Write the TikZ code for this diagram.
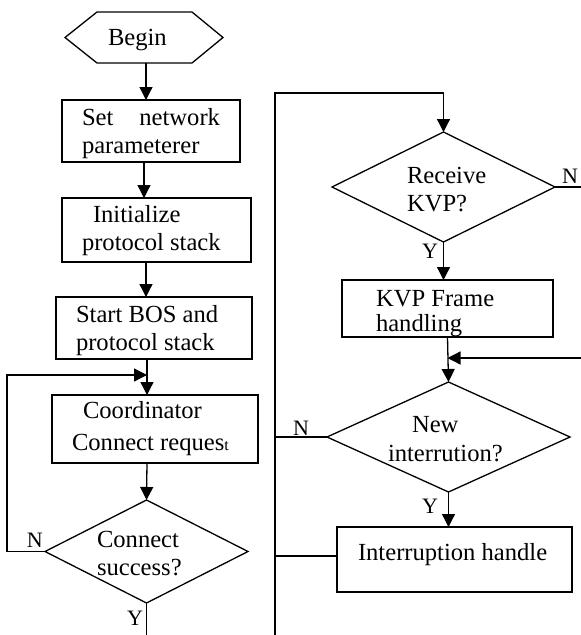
\documentclass[tikz,border=0pt]{standalone}
\usepackage{fontspec}
\setmainfont{Liberation Serif}
\usetikzlibrary{arrows.meta,shapes.geometric}
\begin{document}
\begin{tikzpicture}[x=1pt,y=-1pt,
  every node/.style={inner sep=0pt, outer sep=0pt},
  shapebox/.style={draw, line width=1.3pt, rectangle},
  decision/.style={draw, line width=1.3pt, diamond},
  txt/.style={anchor=west, align=left, font=\fontsize{24.6}{28}\selectfont},
  lbl/.style={anchor=base west, font=\fontsize{22}{22}\selectfont},
  conn/.style={line width=1.3pt},
  arr/.style={conn, -{Triangle[length=13pt,width=13pt]}},
]
\useasboundingbox (0,0) rectangle (581,635);

% ---- left column shapes
\node[minimum width=158pt, minimum height=51pt] (begin) at (144,37.5) {};
\draw[conn] (begin.west) -- ([xshift=32pt]begin.north west) -- ([xshift=-31pt]begin.north east)
  -- (begin.east) -- ([xshift=-31pt]begin.south east) -- ([xshift=32pt]begin.south west) -- cycle;
\node[shapebox, minimum width=178pt, minimum height=62pt] (b1) at (151,131) {};
\node[shapebox, minimum width=189pt, minimum height=64pt] (b2) at (156.5,230) {};
\node[shapebox, minimum width=196pt, minimum height=62pt] (b3) at (154,328) {};
\node[shapebox, minimum width=206pt, minimum height=68pt] (b4) at (155,429) {};
\node[decision, minimum width=203pt, minimum height=103pt] (d1) at (146.5,551.5) {};

% ---- right column shapes
\node[decision, minimum width=223pt, minimum height=110pt] (d2) at (443.5,187) {};
\node[shapebox, minimum width=211pt, minimum height=57pt] (kvp) at (447.5,308.5) {};
\node[decision, minimum width=243pt, minimum height=110pt] (d3) at (448.5,437) {};
\node[shapebox, minimum width=235pt, minimum height=65pt] (ih) at (454.5,559.5) {};

% ---- texts
\node[txt] (t0) at (108,39.7) {Begin};
\node[txt] (t1) at (82,133.2) {\makebox[138pt][s]{Set network}\\parameterer};
\node[txt] (t2) at (82,230.2) {\hspace*{11pt}Initialize\\protocol stack};
\node[txt] (t3) at (76,330.7) {Start BOS and\\protocol stack};
\node[txt, font=\fontsize{24.6}{32}\selectfont] (t4) at (72,428.4) {\hspace*{11pt}Coordinator\\Connect reques{\fontsize{16}{16}\selectfont t}};
\node[txt] (t5) at (97,554) {Connect\\success?};
\node[txt] (t6) at (407,189.4) {Receive\\KVP?};
\node[txt, font=\fontsize{24.6}{25}\selectfont] (t7) at (376,314) {KVP Frame\\handling};
\node[txt, font=\fontsize{24.6}{29}\selectfont] (t8) at (388,439.4) {\hspace*{24pt}New\\interrution?};
\node[txt] (t9) at (358,554.2) {Interruption handle};

% ---- connectors, left
\draw[arr] ([xshift=2pt]begin.south) -- ([xshift=2pt]begin.south |- b1.north);
\draw[arr] ([xshift=-7pt]b1.south) -- ([xshift=-7pt]b1.south |- b2.north);
\draw[arr] ([xshift=-10.5pt]b2.south) -- ([xshift=-10.5pt]b2.south |- b3.north);
\draw[arr] ([xshift=-7pt]b3.south) -- ([xshift=-7pt]b3.south |- b4.north);
\coordinate (lp) at (7,375);
\coordinate (j1) at (147,375);
\draw[arr] (d1.west) -| (lp) -- (j1);
\draw[arr] ([xshift=-8pt]b4.south) -- (d1.north);
\coordinate (e1) at (146.5,635);
\draw[conn] (d1.south) -- (e1);
\node[lbl] (n1) at (27,547) {N};
\node[lbl] (y1) at (127,625) {Y};

% ---- connectors, right
\coordinate (rb) at (275,635);
\coordinate (rt) at (275,93);
\draw[arr] (rb) -- (rt) -| (d2.north);
\draw[arr] (d2.south) -- (d2.south |- kvp.north);
\coordinate (n2e) at (581,187);
\draw[conn] (d2.east) -- (n2e);
\draw[arr] (kvp.south) -- (d3.north);
\coordinate (m) at (581,358);
\draw[arr] (m) -- (kvp.south |- m);
\draw[conn] (d3.west) -- (d3.west -| rt);
\draw[arr] (d3.south) -- (d3.south |- ih.north);
\coordinate (ihw) at ([yshift=3.5pt]ih.west);
\draw[conn] (ihw) -- (ihw -| rt);
\node[lbl] (n2) at (562,183) {N};
\node[lbl] (y2) at (422,258) {Y};
\node[lbl] (n3) at (293,435) {N};
\node[lbl] (y3) at (422,513) {Y};
\end{tikzpicture}
\end{document}
